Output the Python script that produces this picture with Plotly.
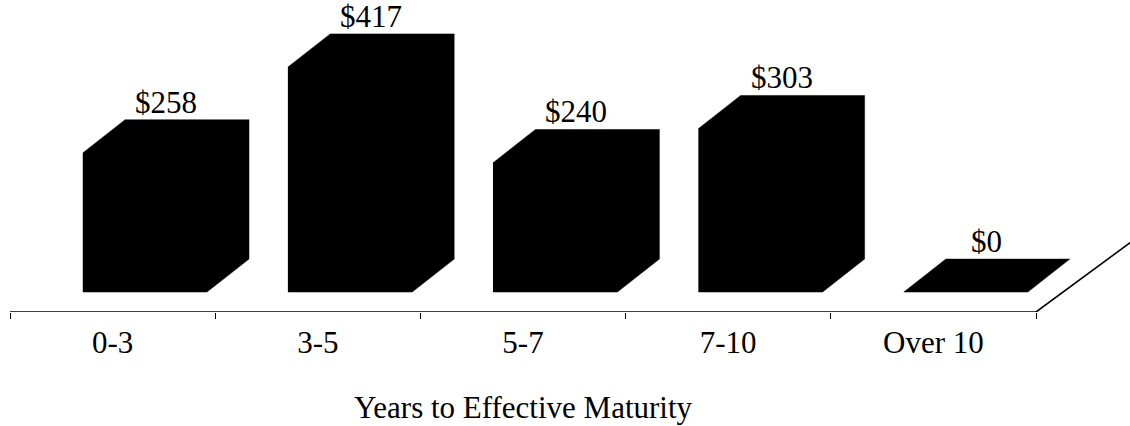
import plotly.graph_objects as go

# ---- data ----
categories = ["0-3", "3-5", "5-7", "7-10", "Over 10"]
values = [258, 417, 240, 303, 0]
value_labels = ["$258", "$417", "$240", "$303", "$0"]
axis_title = "Years to Effective Maturity"

# ---- pseudo-3D geometry (in axis units) ----
BAR_W = 0.604                      # front face width (category units)
FRONT_DX = 0.158                   # bar front face offset from category centre
DEPTH_DX, DEPTH_DY = 0.2047, 61.0  # bar depth extrusion
FLOOR_Y = -37.0                    # front edge of the floor
FLOOR_SLOPE = 70.0 / 95.0          # pixel slope of the floor's side edge
PX_PER_X = 205.2
PX_PER_Y = 0.54

FONT = "Liberation Serif, Times New Roman, serif"
FS = 31

fig = go.Figure()

n = len(categories)
xs = list(range(n))

# front faces as real bars
fig.add_trace(go.Bar(
    x=[i + FRONT_DX for i in xs], y=values, base=0, width=BAR_W,
    marker=dict(color="black", line=dict(width=0)),
    hoverinfo="skip", showlegend=False,
))

# top and side faces derived from the values
for i, v in zip(xs, values):
    x0 = i + FRONT_DX - BAR_W / 2
    x1 = i + FRONT_DX + BAR_W / 2
    px = [x0, x1, x1 + DEPTH_DX, x1 + DEPTH_DX, x0 + DEPTH_DX, x0, x0]
    py = [0, 0, DEPTH_DY, v + DEPTH_DY, v + DEPTH_DY, v, 0]
    fig.add_trace(go.Scatter(
        x=px, y=py, mode="lines", fill="toself", fillcolor="black",
        line=dict(color="black", width=0.5),
        hoverinfo="skip", showlegend=False,
    ))

# floor front edge and right depth edge (runs off the right edge)
left = -0.5
right = n - 0.5
ext = 0.6
fig.add_trace(go.Scatter(
    x=[left, right, right + ext],
    y=[FLOOR_Y, FLOOR_Y, FLOOR_Y + FLOOR_SLOPE * ext * PX_PER_X / PX_PER_Y],
    mode="lines", line=dict(color="black", width=1.6),
    hoverinfo="skip", showlegend=False,
))

# invisible trace so the tick-mark axis is rendered
fig.add_trace(go.Scatter(
    x=[left], y=[FLOOR_Y], xaxis="x2", mode="markers",
    marker=dict(opacity=0), hoverinfo="skip", showlegend=False,
))

# value labels
for i, v, lab in zip(xs, values, value_labels):
    fig.add_annotation(
        x=i + FRONT_DX + DEPTH_DX / 2, y=v + DEPTH_DY,
        text=lab, showarrow=False, yanchor="bottom", yshift=-2,
        font=dict(family=FONT, size=FS, color="black"),
    )

# axis title
fig.add_annotation(
    x=2, xref="x", y=0, yref="paper", yshift=-95, yanchor="middle",
    text=axis_title, showarrow=False,
    font=dict(family=FONT, size=FS, color="black"),
)

XR = [-112.6 / PX_PER_X, (1130 - 112.6) / PX_PER_X]
YR = [FLOOR_Y, FLOOR_Y + 312 / PX_PER_Y]

fig.update_layout(
    width=1130, height=426,
    margin=dict(l=0, r=0, t=0, b=114, pad=0),
    paper_bgcolor="white", plot_bgcolor="white",
    showlegend=False, bargap=0,
    xaxis=dict(
        range=XR, tickmode="array", tickvals=xs, ticktext=categories,
        ticks="outside", ticklen=3, tickcolor="rgba(0,0,0,0)",
        showline=False, showgrid=False, zeroline=False,
        tickfont=dict(family=FONT, size=FS, color="black"),
        fixedrange=True,
    ),
    xaxis2=dict(
        range=XR, overlaying="x", anchor="y", side="bottom",
        tickmode="array", tickvals=[k - 0.5 for k in range(n + 1)],
        ticktext=[""] * (n + 1), ticks="outside", ticklen=6, tickwidth=1.3,
        tickcolor="black", showline=False, showgrid=False, zeroline=False,
        fixedrange=True,
    ),
    yaxis=dict(
        range=YR, visible=False, showgrid=False, zeroline=False,
        fixedrange=True,
    ),
)

fig.write_html(
    "out.html",
    config={"displayModeBar": False},
    post_script="document.body.style.margin='0';",
)
